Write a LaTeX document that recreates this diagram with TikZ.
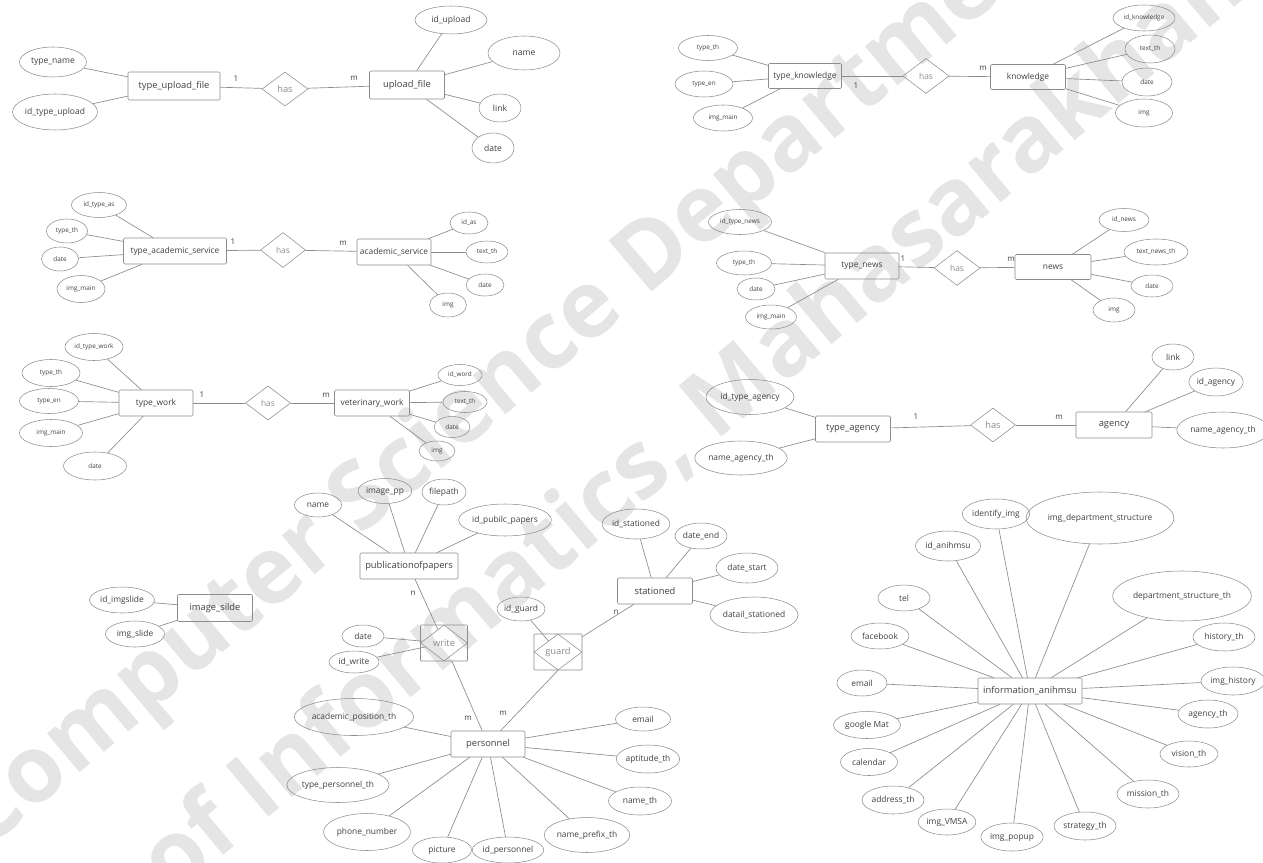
\documentclass[tikz,border=0pt]{standalone}
\usepackage{fontspec}
\setmainfont{Open Sans}
\usetikzlibrary{shapes.geometric}
\definecolor{linec}{gray}{0.55}
\definecolor{txtc}{gray}{0.25}
\definecolor{wmc}{gray}{0.9}
\newcommand\entsz{7}
\tikzset{
	ent/.style 2 args = {draw = linec, rounded corners = 1pt, minimum width = #1*0.75pt, minimum height = #2*0.75pt, inner sep = 0pt, text = txtc, font = \fontsize{\entsz}{8}\selectfont},
	attr/.style 2 args = {draw = linec, ellipse, minimum width = #1*0.75pt, minimum height = #2*0.75pt, inner sep = 0pt, text = txtc},
	rel/.style 2 args = {draw = linec, diamond, minimum width = #1*0.75pt, minimum height = #2*0.75pt, inner sep = 0pt, text = linec, font = \fontsize{\entsz}{8}\selectfont},
	lnk/.style = {draw = linec, line width = 0.5pt},
	card/.style = {text = txtc, inner sep = 0pt, font = \fontsize{6}{7}\selectfont},
	wmark/.style = {text = wmc, inner sep = 0pt, font = \fontsize{70}{72}\selectfont\bfseries}
}
\begin{document}
\begin{tikzpicture}[x = 0.75pt, y = -0.75pt]
	\useasboundingbox (0,0) rectangle (1263,863);
	\begin{scope}
	\clip (0,0) rectangle (1263,863);
	\node[wmark, anchor = base west, rotate = 40] (wmtop) at (-16,853) {Computer Science Department};
	\node[wmark, anchor = base west, rotate = 40] (wmbot) at (-106,1132) {Faculty of Informatics, Mahasarakham University};
	\end{scope}
	\begin{scope}[every node/.style = {font = \fontsize{6.4}{7}\selectfont}]
	\renewcommand\entsz{7}
	\node[ent = {92}{28}] (tuf) at (174,86) {type\_upload\_file};
	\node[rel = {46}{34}] (has1) at (285,89) {has};
	\node[ent = {75}{28}] (uf) at (407,85) {upload\_file};
	\draw[lnk] (tuf) -- (has1);
	\draw[lnk] (has1) -- (uf);
	\node[card] (one1) at (236,79) {1};
	\node[card] (many1) at (354,78) {m};
	\foreach \nm/\x/\y/\w/\h/\txt in {tname/53/62/67/30/type\_name, idtu/55/112/84/36/id\_type\_upload}{
		\node[attr = {\w}{\h}] (\nm) at (\x,\y) {\txt};
		\draw[lnk] (\nm) -- (tuf);}
	\foreach \nm/\x/\y/\w/\h/\txt in {idup/451/20/72/28/id\_upload, ufname/524/53/72/34/name, uflink/500/108/42/28/link, ufdate/493/148/42/30/date}{
		\node[attr = {\w}{\h}] (\nm) at (\x,\y) {\txt};
		\draw[lnk] (\nm) -- (uf);}
	\end{scope}
	\begin{scope}[every node/.style = {font = \fontsize{4.8}{6}\selectfont}]
	\renewcommand\entsz{6.3}
	\node[ent = {73}{25}] (tk) at (805,76) {type\_knowledge};
	\node[rel = {46}{35}] (has2) at (926,76) {has};
	\node[ent = {75}{25}] (kn) at (1028,77) {knowledge};
	\draw[lnk] (tk) -- (has2);
	\draw[lnk] (has2) -- (kn);
	\node[card] (one2) at (856,86) {1};
	\node[card] (many2) at (983,68) {m};
	\foreach \nm/\x/\y/\w/\h/\txt in {tkth/708/48/59/25/type\_th, tken/704/84/58/26/type\_en, tkimg/723/118/59/26/img\_main}{
		\node[attr = {\w}{\h}] (\nm) at (\x,\y) {\txt};
		\draw[lnk] (\nm) -- (tk);}
	\foreach \nm/\x/\y/\w/\h/\txt in {idkn/1144/18/62/26/id\_knowledge, kntext/1150/49/50/28/text\_th, kndate/1147/82/50/28/date, knimg/1144/113/57/28/img}{
		\node[attr = {\w}{\h}] (\nm) at (\x,\y) {\txt};
		\draw[lnk] (\nm) -- (kn);}
	\node[ent = {103}{26}] (tas) at (175,251) {type\_academic\_service};
	\node[rel = {45}{35}] (has3) at (283,250) {has};
	\node[ent = {74}{26}] (as) at (394,252) {academic\_service};
	\draw[lnk] (tas) -- (has3);
	\draw[lnk] (has3) -- (as);
	\node[card] (one3) at (233,242) {1};
	\node[card] (many3) at (343,243) {m};
	\foreach \nm/\x/\y/\w/\h/\txt in {idtas/99/205/55/25/id\_type\_as, tasth/67/231/41/24/type\_th, tasdate/60/259/37/24/date, tasimg/81/289/48/27/img\_main}{
		\node[attr = {\w}{\h}] (\nm) at (\x,\y) {\txt};
		\draw[lnk] (\nm) -- (tas);}
	\foreach \nm/\x/\y/\w/\h/\txt in {idas/469/223/38/22/id\_as, astext/487/252/42/22/text\_th, asdate/485/285/38/22/date, asimg/448/305/37/24/img}{
		\node[attr = {\w}{\h}] (\nm) at (\x,\y) {\txt};
		\draw[lnk] (\nm) -- (as);}
	\node[ent = {74}{26}] (tn) at (862,266) {type\_news};
	\node[rel = {46}{35}] (has4) at (957,268) {has};
	\node[ent = {76}{25}] (nw) at (1053,267) {news};
	\draw[lnk] (tn) -- (has4);
	\draw[lnk] (has4) -- (nw);
	\node[card] (one4) at (903,259) {1};
	\node[card] (many4) at (1011,259) {m};
	\foreach \nm/\x/\y/\w/\h/\txt in {idtn/740/222/63/25/id\_type\_news, tnth/744/263/55/24/type\_th, tndate/756/289/38/22/date, tnimg/771/317/51/24/img\_main}{
		\node[attr = {\w}{\h}] (\nm) at (\x,\y) {\txt};
		\draw[lnk] (\nm) -- (tn);}
	\foreach \nm/\x/\y/\w/\h/\txt in {idnw/1124/220/50/23/id\_news, nwtext/1156/252/64/26/text\_news\_th, nwdate/1152/286/42/22/date, nwimg/1114/310/42/24/img}{
		\node[attr = {\w}{\h}] (\nm) at (\x,\y) {\txt};
		\draw[lnk] (\nm) -- (nw);}
	\node[ent = {74}{26}] (tw) at (156,403) {type\_work};
	\node[rel = {45}{34}] (has5) at (268,403) {has};
	\node[ent = {75}{26}] (vw) at (372,403) {veterinary\_work};
	\draw[lnk] (tw) -- (has5);
	\draw[lnk] (has5) -- (vw);
	\node[card] (one5) at (202,395) {1};
	\node[card] (many5) at (326,395) {m};
	\foreach \nm/\x/\y/\w/\h/\txt in {idtw/94/347/58/27/id\_type\_work, twth/51/373/58/27/type\_th, twen/49/401/59/25/type\_en, twimg/51/433/63/27/img\_main, twdate/95/466/63/28/date}{
		\node[attr = {\w}{\h}] (\nm) at (\x,\y) {\txt};
		\draw[lnk] (\nm) -- (tw);}
	\foreach \nm/\x/\y/\w/\h/\txt in {idvw/460/375/44/21/id\_word, vwtext/465/402/44/21/text\_th, vwdate/452/427/36/21/date, vwimg/437/451/36/20/img}{
		\node[attr = {\w}{\h}] (\nm) at (\x,\y) {\txt};
		\draw[lnk] (\nm) -- (vw);}
	\end{scope}
	\begin{scope}[every node/.style = {font = \fontsize{6.3}{7}\selectfont}]
	\renewcommand\entsz{7}
	\node[ent = {75}{26}] (ta) at (853,429) {type\_agency};
	\node[rel = {45}{34}] (has6) at (993,425) {has};
	\node[ent = {76}{26}] (ag) at (1114,425) {agency};
	\draw[lnk] (ta) -- (has6);
	\draw[lnk] (has6) -- (ag);
	\node[card] (one6) at (916,417) {1};
	\node[card] (many6) at (1059,417) {m};
	\foreach \nm/\x/\y/\w/\h/\txt in {idta/750/397/88/35/id\_type\_agency, tanm/741/458/86/34/name\_agency\_th}{
		\node[attr = {\w}{\h}] (\nm) at (\x,\y) {\txt};
		\draw[lnk] (\nm) -- (ta);}
	\foreach \nm/\x/\y/\w/\h/\txt in {aglink/1173/357/42/26/link, idag/1216/382/52/28/id\_agency, agnm/1223/430/77/36/name\_agency\_th}{
		\node[attr = {\w}{\h}] (\nm) at (\x,\y) {\txt};
		\draw[lnk] (\nm) -- (ag);}
	\end{scope}
	\begin{scope}[every node/.style = {font = \fontsize{6.3}{7}\selectfont}]
	\renewcommand\entsz{7}
	\node[ent = {98}{26}] (pp) at (409,566) {publicationofpapers};
	\node[ent = {47}{36}, rounded corners = 0.5pt] (wbox) at (444,643) {};
	\node[rel = {47}{36}] (write) at (444,643) {write};
	\node[ent = {48}{36}, rounded corners = 0.5pt] (gbox) at (558,652) {};
	\node[rel = {48}{36}] (guard) at (558,652) {guard};
	\node[ent = {75}{26}] (st) at (655,591) {stationed};
	\node[ent = {74}{26}] (ps) at (488,744) {personnel};
	\draw[lnk] (pp) -- (write);
	\draw[lnk] (wbox) -- (ps);
	\draw[lnk] (gbox) -- (st);
	\draw[lnk] (gbox.south) -- (ps);
	\node[card] (many7) at (413,593) {n};
	\node[card] (many8) at (616,612) {n};
	\node[card] (many9) at (468,718) {m};
	\node[card] (many10) at (503,713) {m};
	\foreach \nm/\x/\y/\w/\h/\txt in {ppname/318/505/47/24/name, ppimg/385/491/52/25/image\_pp, ppfile/444/492/44/26/filepath, idpp/505/520/74/32/id\_pubilc\_papers}{
		\node[attr = {\w}{\h}] (\nm) at (\x,\y) {\txt};
		\draw[lnk] (\nm) -- (pp);}
	\foreach \nm/\x/\y/\w/\h/\txt in {wdate/363/636/42/22/date, idw/354/662/50/22/id\_write}{
		\node[attr = {\w}{\h}] (\nm) at (\x,\y) {\txt};
		\draw[lnk] (\nm) -- (write);}
	\node[attr = {46}{24}] (idg) at (521,609) {id\_guard};
	\draw[lnk] (idg) -- (guard);
	\foreach \nm/\x/\y/\w/\h/\txt in {idst/636/524/60/30/id\_stationed, stend/701/536/52/26/date\_end, ststart/747/568/62/30/date\_start, stdet/754/615/78/36/datail\_stationed}{
		\node[attr = {\w}{\h}] (\nm) at (\x,\y) {\txt};
		\draw[lnk] (\nm) -- (st);}
	\foreach \nm/\x/\y/\w/\h/\txt in {psacad/354/717/101/37/academic\_position\_th, pstype/338/785/89/35/type\_personnel\_th, psphone/367/832/87/37/phone\_number, pspic/442/850/59/26/picture, idps/508/850/69/26/id\_personnel, psprefix/587/835/72/35/name\_prefix\_th, psname/640/801/63/28/name\_th, psapt/648/759/63/28/aptitude\_th, psmail/643/719/55/24/email}{
		\node[attr = {\w}{\h}] (\nm) at (\x,\y) {\txt};
		\draw[lnk] (\nm) -- (ps);}
	\node[ent = {75}{27}] (is) at (215,608) {image\_silde};
	\foreach \nm/\x/\y/\w/\h/\txt in {idis/122/600/65/26/id\_imgslide, isimg/135/634/59/26/img\_slide}{
		\node[attr = {\w}{\h}] (\nm) at (\x,\y) {\txt};
		\draw[lnk] (\nm) -- (is);}
	\node[ent = {104}{26}] (ia) at (1030,691) {information\_anihmsu};
	\foreach \nm/\x/\y/\w/\h/\txt in {idfimg/996/514/56/30/identify\_img, imgds/1100/518/117/52/img\_department\_structure, idia/948/546/65/30/id\_anihmsu, iatel/904/598/52/26/tel, dsth/1182/596/110/50/department\_structure\_th, iafb/880/636/58/26/facebook, histh/1224/637/62/28/history\_th, iamail/862/683/50/26/email, imghis/1233/681/60/28/img\_history, agth/1208/714/60/28/agency\_th, iamap/867/725/67/27/google Mat, iacal/869/762/57/27/calendar, visth/1189/754/58/26/vision\_th, addth/893/800/62/28/address\_th, misth/1148/794/62/28/mission\_th, imgvm/947/822/52/26/img\_VMSA, imgpop/1012/837/55/28/img\_popup, strth/1085/826/62/28/strategy\_th}{
		\node[attr = {\w}{\h}] (\nm) at (\x,\y) {\txt};
		\draw[lnk] (\nm) -- (ia);}
	\end{scope}
\end{tikzpicture}
\end{document}
